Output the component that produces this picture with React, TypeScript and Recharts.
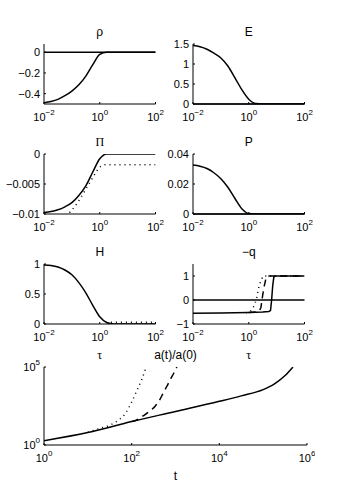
import { LineChart, Line, XAxis, YAxis, ReferenceLine } from 'recharts';

const SANS = '"Liberation Sans", Arial, sans-serif';
const SERIF = '"Liberation Serif", "DejaVu Serif", serif';

// tau grid shared by the smooth small-panel curves (quarter decades)
const tauGrid = [0.01, 0.01778, 0.03162, 0.05623, 0.1, 0.1778, 0.3162, 0.5623, 1, 1.778, 3.162, 100];
const rhoVals = [-0.487, -0.475, -0.455, -0.42, -0.375, -0.315, -0.23, -0.12, -0.02, 0, 0, 0];
const eVals = [1.46, 1.43, 1.37, 1.27, 1.15, 0.95, 0.66, 0.36, 0.12, 0.01, 0, 0];
const piVals = [-0.00975, -0.0096, -0.0093, -0.0088, -0.0081, -0.0069, -0.0053, -0.003, -0.0008, 0, 0, 0];
const pVals = [0.0326, 0.0318, 0.0303, 0.0275, 0.0235, 0.0178, 0.0105, 0.0035, 0.0003, 0, 0, 0];
const hVals = [0.985, 0.975, 0.95, 0.9, 0.82, 0.69, 0.52, 0.31, 0.12, 0.025, 0, 0];

// dotted curves
const piDotTau = [0.0631, 0.0851, 0.129, 0.195, 0.295, 0.447, 0.676, 1, 1.55, 2.51, 100];
const piDotVals = [-0.0104, -0.0097, -0.0087, -0.0075, -0.0061, -0.0047, -0.0033, -0.0022, -0.0018, -0.0018, -0.0018];
const hDotTau = [2.51, 100];
const hDotVals = [0.03, 0.03];

// -q curves
const qSolidTau = [0.01, 0.1, 1, 3.16, 5.25, 6.03, 6.61, 7.24, 7.94, 8.71, 100];
const qSolidVals = [-0.55, -0.54, -0.52, -0.5, -0.48, -0.44, 0, 0.6, 0.95, 1, 1];
const qDashTau = [1, 2, 2.4, 2.75, 3.16, 3.63, 4.17, 4.68, 100];
const qDashVals = [-0.52, -0.5, -0.46, -0.3, 0.2, 0.6, 0.92, 1, 1];
const qDotTau = [0.794, 1.12, 1.45, 1.66, 1.91, 2.19, 2.75, 3.31, 100];
const qDotVals = [-0.53, -0.5, -0.31, -0.15, 0.05, 0.45, 0.82, 1, 1];

// a(t)/a(0)
const tSolid = [1, 10, 100, 1000, 10000, 31623, 100000, 177828, 316228, 478630];
const aSolid = [1.9, 6.3, 32, 141, 631, 1413, 3548, 7943, 28184, 100000];
const tDot = [10, 15.8, 31.6, 50.1, 70.8, 100, 131.8, 169.8, 213.8];
const aDot = [6.6, 10, 18.6, 39.8, 100, 562, 3162, 15849, 100000];
const tDash = [100, 141, 186, 251, 339, 427, 525, 631, 759, 912, 1072];
const aDash = [31.6, 44.7, 75.9, 141, 295, 708, 2138, 5623, 15488, 39811, 100000];

const tauTicks = [0.01, 1, 100];
const tTicks = [1, 100, 10000, 1000000];

type Curve = { x: number[]; y: number[]; style?: 'dot' | 'dash'; linear?: boolean };

const rows = (c: Curve) => c.x.map((x, i) => ({ x, y: c.y[i] }));
const dashOf = (s?: string) => (s === 'dot' ? '1 4' : s === 'dash' ? '7 5' : undefined);
const expOf = (v: number) => {
  const e = Math.round(Math.log10(v));
  return e < 0 ? '\u2212' + -e : String(e);
};
const minus = (v: number) => String(v).replace('-', '\u2212');

const NoTick = () => <g />;

function PowTickX(props: any) {
  const { x, y, payload } = props;
  return (
    <text x={x} y={y} textAnchor="middle" fontSize={11} fontFamily={SANS} fill="#000">
      <tspan dy={15}>10</tspan>
      <tspan dy={-6} fontSize={8}>{expOf(payload.value)}</tspan>
    </text>
  );
}

function PowTickY(props: any) {
  const { x, y, payload } = props;
  return (
    <text x={x} y={y} textAnchor="end" fontSize={11} fontFamily={SANS} fill="#000">
      <tspan dy={4}>10</tspan>
      <tspan dy={-6} fontSize={8}>{expOf(payload.value)}</tspan>
    </text>
  );
}

type PanelProps = {
  left: number;
  top: number;
  width: number;
  height: number;
  xDomain: [number, number];
  xTicks: number[];
  yDomain: [number, number];
  yTicks: number[];
  yLog?: boolean;
  curves: Curve[];
  zero?: boolean;
  title: string;
  titleFont?: string;
  xLabel?: string;
  xLabelFont?: string;
};

function Panel(p: PanelProps) {
  const padL = 44;
  const padT = 8;
  const padR = 8;
  const axisH = 28;
  return (
    <>
      <div
        style={{
          position: 'absolute',
          left: p.left,
          top: p.top - 19,
          width: p.width,
          textAlign: 'center',
          fontFamily: p.titleFont || SANS,
          fontSize: 12,
          lineHeight: '14px',
        }}
      >
        {p.title}
      </div>
      {p.xLabel && (
        <div
          style={{
            position: 'absolute',
            left: p.left,
            top: p.top + p.height + 24,
            width: p.width,
            textAlign: 'center',
            fontFamily: p.xLabelFont || SANS,
            fontSize: 12,
            lineHeight: '14px',
          }}
        >
          {p.xLabel}
        </div>
      )}
      <div style={{ position: 'absolute', left: p.left - padL, top: p.top - padT }}>
        <LineChart
          width={padL + p.width + padR}
          height={padT + p.height + axisH}
          margin={{ top: padT, right: padR, bottom: 0, left: 0 }}
        >
          <XAxis
            type="number"
            dataKey="x"
            scale="log"
            domain={p.xDomain}
            ticks={p.xTicks}
            interval={0}
            allowDataOverflow
            height={axisH}
            stroke="#000"
            tickSize={-2}
            tickMargin={4}
            tick={<PowTickX />}
          />
          <XAxis
            xAxisId="top"
            orientation="top"
            type="number"
            dataKey="x"
            scale="log"
            domain={p.xDomain}
            ticks={p.xTicks}
            interval={0}
            allowDataOverflow
            height={0}
            stroke="#000"
            tickSize={-2}
            tick={NoTick}
          />
          <YAxis
            type="number"
            scale={p.yLog ? 'log' : 'linear'}
            domain={p.yDomain}
            ticks={p.yTicks}
            interval={0}
            allowDataOverflow
            width={padL}
            stroke="#000"
            tickSize={-2}
            tickMargin={6}
            tick={p.yLog ? <PowTickY /> : { fontSize: 11, fill: '#000', fontFamily: SANS }}
            tickFormatter={minus}
          />
          <YAxis
            yAxisId="right"
            orientation="right"
            type="number"
            scale={p.yLog ? 'log' : 'linear'}
            domain={p.yDomain}
            ticks={p.yTicks}
            interval={0}
            allowDataOverflow
            width={0}
            stroke="#000"
            tickSize={-2}
            tick={NoTick}
          />
          {p.zero && <ReferenceLine y={0} stroke="#000" strokeWidth={1.5} />}
          {p.curves.map((c, i) => (
            <Line
              key={i}
              data={rows(c)}
              dataKey="y"
              type={c.linear ? 'linear' : 'monotone'}
              stroke="#000"
              strokeWidth={1.5}
              strokeDasharray={dashOf(c.style)}
              dot={false}
              activeDot={false}
              isAnimationActive={false}
            />
          ))}
        </LineChart>
      </div>
    </>
  );
}

export default function App() {
  const L = 44;
  const R = 193;
  const W = 111.5;
  const H = 60;
  const tau: [number, number] = [0.01, 100];
  return (
    <div style={{ position: 'absolute', left: 0, top: 0, width: 339, height: 502, background: '#fff' }}>
      <Panel left={L} top={44} width={W} height={H} xDomain={tau} xTicks={tauTicks}
        yDomain={[-0.5, 0.08]} yTicks={[-0.4, -0.2, 0]} zero title="ρ"
        curves={[{ x: tauGrid, y: rhoVals }]} />
      <Panel left={R} top={44} width={W} height={H} xDomain={tau} xTicks={tauTicks}
        yDomain={[0, 1.5]} yTicks={[0, 0.5, 1, 1.5]} zero title="E"
        curves={[{ x: tauGrid, y: eVals }]} />
      <Panel left={L} top={154} width={W} height={H} xDomain={tau} xTicks={tauTicks}
        yDomain={[-0.01, 0]} yTicks={[-0.01, -0.005, 0]} title="Π" titleFont={SERIF}
        curves={[{ x: tauGrid, y: piVals }, { x: piDotTau, y: piDotVals, style: 'dot' }]} />
      <Panel left={R} top={154} width={W} height={H} xDomain={tau} xTicks={tauTicks}
        yDomain={[0, 0.04]} yTicks={[0, 0.02, 0.04]} zero title="P"
        curves={[{ x: tauGrid, y: pVals }]} />
      <Panel left={L} top={264} width={W} height={H} xDomain={tau} xTicks={tauTicks}
        yDomain={[0, 1]} yTicks={[0, 0.5, 1]} title="H" xLabel="τ" xLabelFont={SERIF}
        curves={[{ x: tauGrid, y: hVals }, { x: hDotTau, y: hDotVals, style: 'dot' }]} />
      <Panel left={R} top={264} width={W} height={H} xDomain={tau} xTicks={tauTicks}
        yDomain={[-1, 1.5]} yTicks={[-1, 0, 1]} zero title="−q" xLabel="τ" xLabelFont={SERIF}
        curves={[
          { x: qSolidTau, y: qSolidVals, linear: true },
          { x: qDashTau, y: qDashVals, style: 'dash', linear: true },
          { x: qDotTau, y: qDotVals, style: 'dot', linear: true },
        ]} />
      <Panel left={L} top={367} width={263} height={78} xDomain={[1, 1000000]} xTicks={tTicks}
        yDomain={[1, 100000]} yTicks={[1, 100000]} yLog title="a(t)/a(0)" xLabel="t"
        curves={[
          { x: tSolid, y: aSolid },
          { x: tDot, y: aDot, style: 'dot' },
          { x: tDash, y: aDash, style: 'dash' },
        ]} />
    </div>
  );
}
